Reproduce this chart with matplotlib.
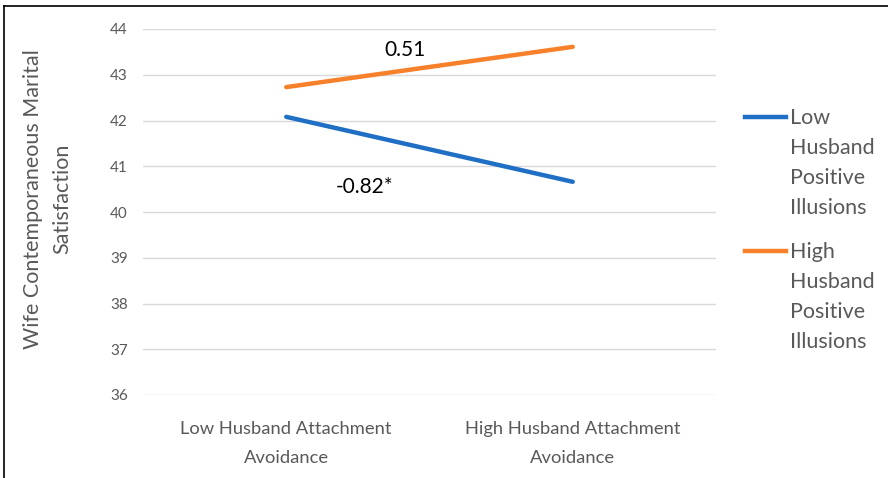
import matplotlib.pyplot as plt
from matplotlib.lines import Line2D

plt.rcParams['font.family'] = ['Lato', 'DejaVu Sans']

# data
categories = ['Low Husband Attachment\nAvoidance', 'High Husband Attachment\nAvoidance']
low_illusions = [42.08, 40.66]
high_illusions = [42.73, 43.61]
series_names = ['Low\nHusband\nPositive\nIllusions', 'High\nHusband\nPositive\nIllusions']
slope_labels = ['-0.82*', '0.51']

blue = '#1f6fc5'
orange = '#f7802a'
grey = '#595959'

W, H = 888, 478
fig = plt.figure(figsize=(W / 100, H / 100), dpi=100)
ax = fig.add_axes([143 / W, 1 - 395 / H, 573 / W, 366 / H])

x = [0, 1]
ax.plot(x, low_illusions, color=blue, lw=3.2, solid_capstyle='round')
ax.plot(x, high_illusions, color=orange, lw=3.2, solid_capstyle='round')

ax.set_xlim(-0.5, 1.5)
ax.set_ylim(36, 44)
ax.set_yticks(range(36, 45))
ax.yaxis.grid(True, color='#d9d9d9', lw=1)
ax.set_axisbelow(True)
ax.set_xticks(x)
ax.set_xticklabels(categories, fontsize=13.2, color=grey, linespacing=1.95)
ax.tick_params(axis='y', labelsize=11, colors=grey, length=0, pad=11)
ax.tick_params(axis='x', length=0, pad=19)
for s in ax.spines.values():
    s.set_visible(False)

ax.set_ylabel('Wife Contemporaneous Marital\nSatisfaction', fontsize=15.5,
              color=grey, linespacing=1.6, labelpad=27, y=0.535)

# slope annotations
ax.text(0.415, 43.55, slope_labels[1], fontsize=15, color='black', ha='center', va='center')
ax.text(0.275, 40.55, slope_labels[0], fontsize=15, color='black', ha='center', va='center')

# legend, handle next to the first line of each wrapped name
for name, color, y0 in zip(series_names, [blue, orange], [117, 251]):
    fig.add_artist(Line2D([745 / W, 786 / W], [1 - y0 / H] * 2, color=color, lw=3.2))
    fig.text(790 / W, 1 - (y0 - 9) / H, name, fontsize=15.5, color=grey,
             va='top', ha='left', linespacing=1.63)

# frame edges
fig.add_artist(Line2D([4 / W, 4 / W], [0, 1 - 6 / H], color='black', lw=1.2))
fig.add_artist(Line2D([4 / W, 1], [1 - 6 / H, 1 - 6 / H], color='black', lw=1.2))

fig.savefig('out.png', dpi=100)
